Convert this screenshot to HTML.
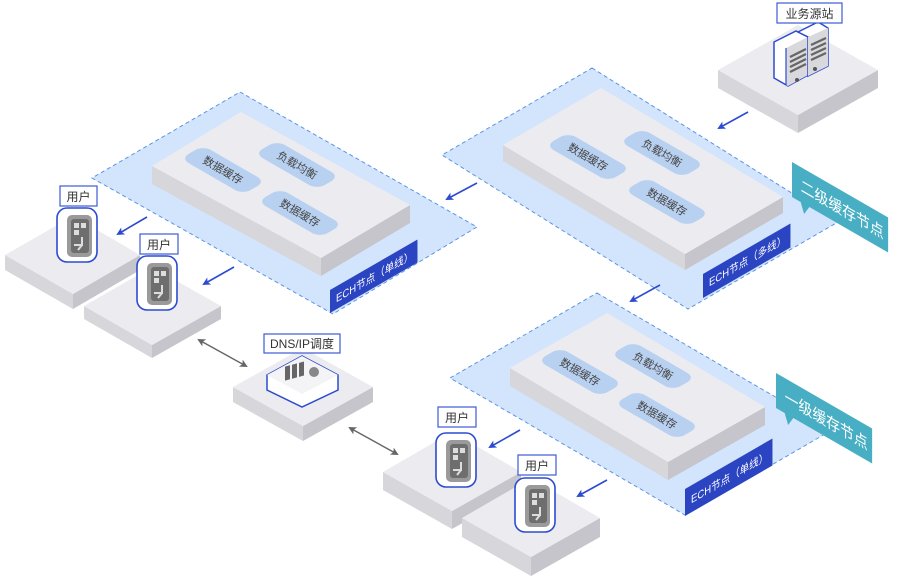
<!DOCTYPE html>
<html><head><meta charset="utf-8"><style>
html,body{margin:0;padding:0;background:#fff;}
svg{display:block;font-family:"Liberation Sans","Noto Sans CJK SC",sans-serif;}
</style></head><body>
<svg width="898" height="583" viewBox="0 0 898 583" xmlns="http://www.w3.org/2000/svg">
<defs>
<marker id="ab" markerWidth="8" markerHeight="8" refX="6" refY="4" orient="auto" markerUnits="userSpaceOnUse"><path d="M0,0 L8,4 L0,8 L2,4 Z" fill="#2c4bd0"/></marker>
<marker id="ag" markerWidth="8" markerHeight="8" refX="6" refY="4" orient="auto-start-reverse" markerUnits="userSpaceOnUse"><path d="M0,0 L8,4 L0,8 L2,4 Z" fill="#666"/></marker>
<g id="user">
 <rect x="0" y="0" width="40" height="54" rx="10" fill="#fff" stroke="#2c4bd0" stroke-width="1.6"/>
 <rect x="10" y="7" width="25" height="42" rx="5" fill="#9a9a9a"/>
 <rect x="14" y="11" width="18" height="34" rx="3" fill="#6e6e6e"/>
 <rect x="17" y="15" width="5" height="5" fill="#ddd"/><rect x="24" y="15" width="5" height="5" fill="#ddd"/>
 <rect x="17" y="22" width="5" height="5" fill="#ddd"/>
 <path d="M17,37 L25,37 L25,29 M25,37 L21,42" stroke="#ddd" stroke-width="2" fill="none"/>
</g>
</defs>

<!-- Node 1 region -->
<polygon points="240,92 477,227 333,314 92,178" fill="#d3e5fc" stroke="#5b95e0" stroke-dasharray="4,3" stroke-width="1"/>
<polygon points="152,166 321,258 321,276 152,184" fill="#d6d6db"/>
<polygon points="321,258 410,205 410,223 321,276" fill="#c5c5cb"/>
<polygon points="241,112 410,205 321,258 152,166" fill="#ececf0"/>
<g font-size="11" fill="#444">
<g transform="translate(223,170) matrix(0.866,0.5,-0.866,0.5,0,0)"><rect x="-36" y="-13" width="72" height="26" rx="9" fill="#b9d1f1"/></g>
<text x="223" y="174" text-anchor="middle" transform="rotate(30 223 170)">数据缓存</text>
<g transform="translate(297,165) matrix(0.866,0.5,-0.866,0.5,0,0)"><rect x="-36" y="-13" width="72" height="26" rx="9" fill="#b9d1f1"/></g>
<text x="297" y="169" text-anchor="middle" transform="rotate(30 297 165)">负载均衡</text>
<g transform="translate(300,213) matrix(0.866,0.5,-0.866,0.5,0,0)"><rect x="-36" y="-13" width="72" height="26" rx="9" fill="#b9d1f1"/></g>
<text x="300" y="217" text-anchor="middle" transform="rotate(30 300 213)">数据缓存</text>
</g>
<g transform="matrix(0.866,-0.5,0,1,330,290)"><rect x="0" y="0" width="101" height="23" fill="#2b44c2"/><text x="7" y="16" font-size="11" fill="#fff">ECH节点（单线）</text></g>

<!-- Node 2 region -->
<polygon points="592,68 838,222 688,309 442,155" fill="#d3e5fc" stroke="#5b95e0" stroke-dasharray="4,3" stroke-width="1"/>
<polygon points="503,145 685,254 685,270 503,161" fill="#d6d6db"/>
<polygon points="685,254 783,197 783,213 685,270" fill="#c5c5cb"/>
<polygon points="601,88 783,197 685,254 503,145" fill="#ececf0"/>
<g font-size="11" fill="#444">
<g transform="translate(588,157) matrix(0.866,0.5,-0.866,0.5,0,0)"><rect x="-36" y="-13" width="72" height="26" rx="9" fill="#b9d1f1"/></g>
<text x="588" y="161" text-anchor="middle" transform="rotate(30 588 157)">数据缓存</text>
<g transform="translate(662,153) matrix(0.866,0.5,-0.866,0.5,0,0)"><rect x="-36" y="-13" width="72" height="26" rx="9" fill="#b9d1f1"/></g>
<text x="662" y="157" text-anchor="middle" transform="rotate(30 662 153)">负载均衡</text>
<g transform="translate(667,202) matrix(0.866,0.5,-0.866,0.5,0,0)"><rect x="-36" y="-13" width="72" height="26" rx="9" fill="#b9d1f1"/></g>
<text x="667" y="206" text-anchor="middle" transform="rotate(30 667 202)">数据缓存</text>
</g>
<g transform="matrix(0.866,-0.5,0,1,703,274)"><rect x="0" y="0" width="101" height="24" fill="#2b44c2"/><text x="7" y="16" font-size="11" fill="#fff">ECH节点（多线）</text></g>

<!-- Node 3 region -->
<polygon points="597,293 832,430 685,515 450,378" fill="#d3e5fc" stroke="#5b95e0" stroke-dasharray="4,3" stroke-width="1"/>
<polygon points="510,368 668,462 668,480 510,386" fill="#d6d6db"/>
<polygon points="668,462 765,407 765,425 668,480" fill="#c5c5cb"/>
<polygon points="607,313 765,407 668,462 510,368" fill="#ececf0"/>
<g font-size="11" fill="#444">
<g transform="translate(580,372) matrix(0.866,0.5,-0.866,0.5,0,0)"><rect x="-36" y="-13" width="72" height="26" rx="9" fill="#b9d1f1"/></g>
<text x="580" y="376" text-anchor="middle" transform="rotate(30 580 372)">数据缓存</text>
<g transform="translate(653,366) matrix(0.866,0.5,-0.866,0.5,0,0)"><rect x="-36" y="-13" width="72" height="26" rx="9" fill="#b9d1f1"/></g>
<text x="653" y="370" text-anchor="middle" transform="rotate(30 653 366)">负载均衡</text>
<g transform="translate(657,415) matrix(0.866,0.5,-0.866,0.5,0,0)"><rect x="-36" y="-13" width="72" height="26" rx="9" fill="#b9d1f1"/></g>
<text x="657" y="419" text-anchor="middle" transform="rotate(30 657 415)">数据缓存</text>
</g>
<g transform="matrix(0.866,-0.5,0,1,685,489)"><rect x="0" y="0" width="101" height="27" fill="#2b44c2"/><text x="7" y="18" font-size="11" fill="#fff">ECH节点（单线）</text></g>

<!-- Teal tags -->
<g transform="matrix(0.866,0.5,0,1,792,162)"><path d="M0,0 L111,0 L111,35 L20,35 L14,45 L10,35 L0,35 Z" fill="#48aec4"/><text x="10" y="24" font-size="16" fill="#fff">二级缓存节点</text></g>
<g transform="matrix(0.866,0.5,0,1,776,373)"><path d="M0,0 L111,0 L111,35 L20,35 L14,45 L10,35 L0,35 Z" fill="#48aec4"/><text x="10" y="24" font-size="16" fill="#fff">一级缓存节点</text></g>

<!-- Server block -->
<polygon points="718,70 798,115 798,133 718,88" fill="#d6d6db"/>
<polygon points="798,115 878,70 878,88 798,133" fill="#c5c5cb"/>
<polygon points="718,70 798,25 878,70 798,115" fill="#ececf0"/>
<!-- tower 1 -->
<polygon points="774,42 796,31 808,37 808,75 788,86 774,78" fill="#fff" stroke="#2c4bd0" stroke-width="1.5"/>
<polygon points="786,48 808,37 808,75 788,86 786,85" fill="#d9d9dd"/>
<line x1="786" y1="48" x2="786" y2="85" stroke="#2c4bd0" stroke-width="1.2"/>
<!-- tower 2 -->
<polygon points="808,37 820,30 814,26 836,16 848,22 848,60 828,71 808,75" fill="none"/>
<polygon points="798,32 818,22 828,28 828,66 808,76 808,37" fill="#fff" stroke="#2c4bd0" stroke-width="1.5"/>
<polygon points="808,37 828,28 828,66 808,76" fill="#d9d9dd"/>
<g stroke="#666" stroke-width="2.2"><path d="M790,57 L806,49 M790,62 L806,54 M790,67 L806,59 M790,72 L806,64 M811,45 L826,38 M811,50 L826,43 M811,55 L826,48 M811,60 L826,53"/></g>
<circle cx="797" cy="80" r="2" fill="#555"/><circle cx="815" cy="69" r="2" fill="#555"/>
<rect x="777" y="3" width="65" height="20" fill="#fff" stroke="#3d5ad6" stroke-width="1.2"/>
<text x="809.5" y="18" font-size="12" fill="#333" text-anchor="middle">业务源站</text>

<!-- User blocks left -->
<polygon points="5,255 73,294 73,309 5,270" fill="#d6d6db"/>
<polygon points="73,294 140,255 140,270 73,309" fill="#c5c5cb"/>
<polygon points="5,255 73,216 140,255 73,294" fill="#ececf0"/>
<use href="#user" x="57" y="208"/>
<rect x="60" y="186" width="37" height="20" fill="#fff" stroke="#3d5ad6" stroke-width="1.2"/>
<text x="78.5" y="201" font-size="12" fill="#333" text-anchor="middle">用户</text>

<polygon points="84,306 152,345 152,358 84,319" fill="#d6d6db"/>
<polygon points="152,345 221,306 221,319 152,358" fill="#c5c5cb"/>
<polygon points="84,306 152,267 221,306 152,345" fill="#ececf0"/>
<use href="#user" x="137" y="256"/>
<rect x="140" y="234" width="38" height="20" fill="#fff" stroke="#3d5ad6" stroke-width="1.2"/>
<text x="159" y="249" font-size="12" fill="#333" text-anchor="middle">用户</text>

<!-- DNS block -->
<polygon points="233,387 303,426 303,441 233,402" fill="#d6d6db"/>
<polygon points="303,426 373,387 373,402 303,441" fill="#c5c5cb"/>
<polygon points="233,387 303,348 373,387 303,426" fill="#ececf0"/>
<polygon points="267,375 302,356 338,375 338,390 302,407 267,390" fill="#fff" stroke="#2c4bd0" stroke-width="1.5"/>
<polygon points="267,375 302,356 338,375 302,394" fill="#f4f4f6"/>
<g fill="#666"><rect x="285" y="366" width="5" height="14" transform="skewY(-15) translate(0,77)"/><rect x="292" y="364" width="5" height="14" transform="skewY(-15) translate(0,79)"/><rect x="299" y="362" width="5" height="14" transform="skewY(-15) translate(0,81)"/></g>
<circle cx="314" cy="372" r="5" fill="#888"/>
<rect x="264" y="334" width="76" height="19" fill="#fff" stroke="#3d5ad6" stroke-width="1.2"/>
<text x="302" y="348" font-size="12" fill="#333" text-anchor="middle">DNS/IP调度</text>

<!-- Bottom user blocks -->
<polygon points="383,472 452,511 452,529 383,490" fill="#d6d6db"/>
<polygon points="452,511 521,472 521,490 452,529" fill="#c5c5cb"/>
<polygon points="383,472 452,432 521,472 452,511" fill="#ececf0"/>
<use href="#user" x="436" y="433"/>
<rect x="438" y="407" width="38" height="20" fill="#fff" stroke="#3d5ad6" stroke-width="1.2"/>
<text x="457" y="422" font-size="12" fill="#333" text-anchor="middle">用户</text>

<polygon points="462,518 531,557 531,576 462,537" fill="#d6d6db"/>
<polygon points="531,557 600,518 600,537 531,576" fill="#c5c5cb"/>
<polygon points="462,518 531,478 600,518 531,557" fill="#ececf0"/>
<use href="#user" x="515" y="478"/>
<rect x="518" y="455" width="38" height="20" fill="#fff" stroke="#3d5ad6" stroke-width="1.2"/>
<text x="537" y="470" font-size="12" fill="#333" text-anchor="middle">用户</text>

<!-- Arrows -->
<g stroke="#2c4bd0" stroke-width="1.6" marker-end="url(#ab)">
<line x1="748" y1="112" x2="719" y2="128"/>
<line x1="477" y1="183" x2="447" y2="199"/>
<line x1="660" y1="285" x2="631" y2="301"/>
<line x1="147" y1="217" x2="118" y2="234"/>
<line x1="234" y1="267" x2="204" y2="284"/>
<line x1="520" y1="430" x2="490" y2="447"/>
<line x1="607" y1="480" x2="578" y2="496"/>
</g>
<g stroke="#666" stroke-width="1.4" marker-start="url(#ag)" marker-end="url(#ag)">
<line x1="199" y1="340" x2="246" y2="366"/>
<line x1="350" y1="428" x2="397" y2="454"/>
</g>
</svg>
</body></html>
